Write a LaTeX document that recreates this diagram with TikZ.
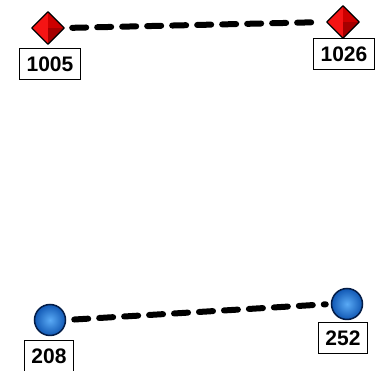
\documentclass[tikz,border=0pt]{standalone}
\usepackage{fontspec}
\setmainfont{Liberation Sans}
\usetikzlibrary{shapes.geometric}
\definecolor{dred}{RGB}{165,0,0}
\definecolor{mred}{RGB}{205,0,0}
\definecolor{bred}{RGB}{245,20,20}
\definecolor{lblue}{RGB}{90,170,245}
\definecolor{cblue}{RGB}{20,100,200}
\definecolor{dblue}{RGB}{5,40,100}
\begin{document}
\begin{tikzpicture}[x=1pt,y=-1pt,
  lbl/.style={draw=black,line width=1.3pt,fill=white,font=\bfseries\fontsize{21}{21}\selectfont,inner xsep=7pt,inner ysep=4pt,minimum height=31pt},
  link/.style={line width=6pt,dash pattern=on 14pt off 11pt,line cap=round,shorten <=8pt,shorten >=5pt},
  dia/.style={diamond,minimum width=32pt,minimum height=32pt,inner sep=0pt,fill=bred},
  ball/.style={circle,minimum size=31pt,inner sep=0pt,draw=dblue!70!black,line width=1.5pt,inner color=lblue,outer color=cblue!80!dblue}]
\useasboundingbox (0,0) rectangle (376,371);
% top diamonds
\node[dia] (d1) at (48,28) {};
\fill[dred] (d1.east) -- (d1.center) -- (d1.south) -- cycle;
\fill[mred] (d1.north) -- (d1.center) -- (d1.east) -- cycle;
\draw[black,line width=1.2pt,line join=round] (d1.north) -- (d1.east) -- (d1.south) -- (d1.west) -- cycle;
\node[dia] (d2) at (343,22) {};
\fill[dred] (d2.east) -- (d2.center) -- (d2.south) -- cycle;
\fill[mred] (d2.north) -- (d2.center) -- (d2.east) -- cycle;
\draw[black,line width=1.2pt,line join=round] (d2.north) -- (d2.east) -- (d2.south) -- (d2.west) -- cycle;
\draw[link] (d1.east) -- (d2.west);
\node[lbl] (l1) at (50,64) {1005};
\node[lbl] (l2) at (344,54) {1026};
% bottom balls
\node[ball] (b1) at (50,320) {};
\node[ball] (b2) at (347,304) {};
\draw[link] (b1.east) -- (b2.west);
\node[lbl] (l3) at (49,356) {208};
\node[lbl] (l4) at (343,338) {252};
\end{tikzpicture}
\end{document}
